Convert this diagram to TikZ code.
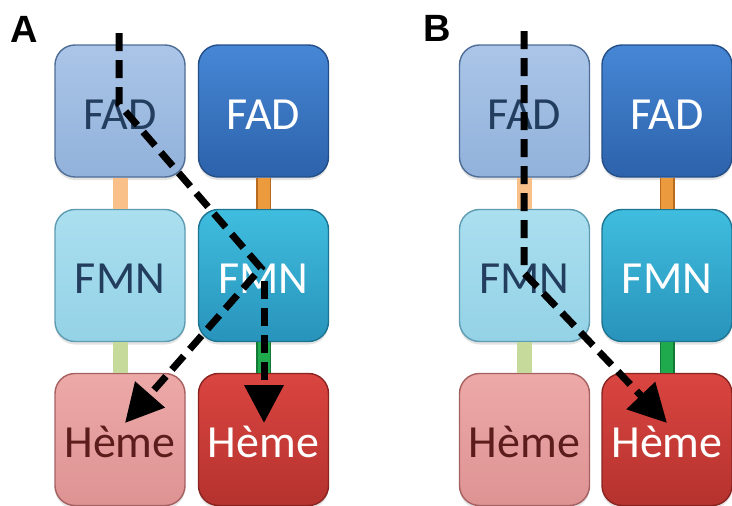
\documentclass[tikz,border=0pt]{standalone}
\usepackage{fontspec}
\setmainfont{Carlito}
\newfontfamily\panelfont{Liberation Sans}
\usetikzlibrary{arrows.meta,shadows}
\definecolor{fadLt}{HTML}{AAC5E7}\definecolor{fadLb}{HTML}{92B2DB}\definecolor{fadLd}{HTML}{4F6D96}
\definecolor{fadRt}{HTML}{4687D5}\definecolor{fadRb}{HTML}{2D62AB}\definecolor{fadRd}{HTML}{244E88}
\definecolor{fmnLt}{HTML}{AADFEF}\definecolor{fmnLb}{HTML}{94D2E6}\definecolor{fmnLd}{HTML}{5E9CB2}
\definecolor{fmnRt}{HTML}{3FBDDF}\definecolor{fmnRb}{HTML}{2893BB}\definecolor{fmnRd}{HTML}{1D7492}
\definecolor{hemLt}{HTML}{ECA9A8}\definecolor{hemLb}{HTML}{DE9393}\definecolor{hemLd}{HTML}{A66060}
\definecolor{hemRt}{HTML}{DA4540}\definecolor{hemRb}{HTML}{B5322E}\definecolor{hemRd}{HTML}{8A2420}
\definecolor{txtBlue}{HTML}{223D5E}\definecolor{txtRed}{HTML}{5C1C1C}
\definecolor{peach}{HTML}{F9C08A}\definecolor{orng}{HTML}{EC9A3E}\definecolor{orngD}{HTML}{B86A1E}
\definecolor{lgreen}{HTML}{C6DA9C}\definecolor{grn}{HTML}{1FAA4E}\definecolor{grnD}{HTML}{137A35}
\tikzset{
  box/.style={rounded corners=20pt, minimum width=130pt, minimum height=132pt, line width=1.4pt,
    inner sep=0pt, text height=36pt, text depth=0pt, font=\fontsize{46}{50}\selectfont,
    drop shadow={opacity=0.22, shadow xshift=0pt, shadow yshift=-3pt}},
  fadL/.style={box, top color=fadLt, bottom color=fadLb, draw=fadLd, text=txtBlue},
  fadR/.style={box, top color=fadRt, bottom color=fadRb, draw=fadRd, text=white},
  fmnL/.style={box, top color=fmnLt, bottom color=fmnLb, draw=fmnLd, text=txtBlue},
  fmnR/.style={box, top color=fmnRt, bottom color=fmnRb, draw=fmnRd, text=white},
  hemL/.style={box, top color=hemLt, bottom color=hemLb, draw=hemLd, text=txtRed},
  hemR/.style={box, top color=hemRt, bottom color=hemRb, draw=hemRd, text=white},
  barflat/.style={line width=15pt},
  barbevel/.style={line width=1.5pt, double distance=12pt},
  path/.style={line width=7pt, dash pattern=on 18pt off 9pt, black},
  patharrow/.style={path, -{Triangle[length=38pt,width=38pt]}},
  panel/.style={font=\panelfont\bfseries\fontsize{38}{40}\selectfont, inner sep=0pt}
}
\begin{document}
\begin{tikzpicture}[x=1pt,y=-1pt]
\useasboundingbox (0,0) rectangle (732,506);
\fill[white] (0,0) rectangle (732,506);
% ---------- Panel A ----------
\node[panel] (labA) at (24,29) {A};
\node[fadL] (aFadL) at (120,111) {FAD};
\node[fadR] (aFadR) at (263.5,111) {FAD};
\node[fmnL] (aFmnL) at (120,275.5) {FMN};
\node[fmnR] (aFmnR) at (263.5,275.5) {FMN};
\node[hemL] (aHemL) at (120,439.5) {Hème};
\node[hemR] (aHemR) at (263.5,439.5) {Hème};
\draw[barflat, peach] (aFadL.south) -- (aFmnL.north);
\draw[barbevel, draw=orngD, double=orng] (aFadR.south) -- (aFmnR.north);
\draw[barflat, lgreen] (aFmnL.south) -- (aHemL.north);
\draw[barbevel, draw=grnD, double=grn] (aFmnR.south) -- (aHemR.north);
\coordinate (a0) at (119,33);
\coordinate (a1) at (119,104);
\coordinate (a2) at (261,268);
\coordinate (a3) at (125,423);
\coordinate (a4) at (264,281);
\coordinate (a5) at (264,423);
\draw[patharrow] (a0) -- (a1) -- (a2) -- (a3);
\draw[patharrow] (a4) -- (a5);
% ---------- Panel B ----------
\node[panel] (labB) at (437,28) {B};
\node[fadL] (bFadL) at (524.5,111) {FAD};
\node[fadR] (bFadR) at (667,111) {FAD};
\node[fmnL] (bFmnL) at (524.5,275.5) {FMN};
\node[fmnR] (bFmnR) at (667,275.5) {FMN};
\node[hemL] (bHemL) at (524.5,439.5) {Hème};
\node[hemR] (bHemR) at (667,439.5) {Hème};
\draw[barflat, peach] (bFadL.south) -- (bFmnL.north);
\draw[barbevel, draw=orngD, double=orng] (bFadR.south) -- (bFmnR.north);
\draw[barflat, lgreen] (bFmnL.south) -- (bHemL.north);
\draw[barbevel, draw=grnD, double=grn] (bFmnR.south) -- (bHemR.north);
\coordinate (b0) at (524,31);
\coordinate (b1) at (524,273);
\coordinate (b2) at (667,423);
\draw[patharrow] (b0) -- (b1) -- (b2);
\end{tikzpicture}
\end{document}
